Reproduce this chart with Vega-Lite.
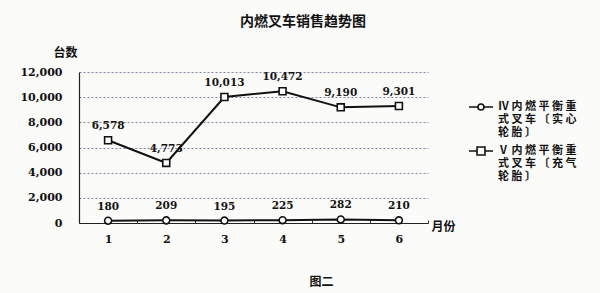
{
  "$schema": "https://vega.github.io/schema/vega-lite/v6.json",
  "autosize": "none",
  "width": 349,
  "height": 151,
  "padding": {"left": 79, "top": 72, "right": 172, "bottom": 70},
  "background": "#fbfbf9",
  "title": {
    "text": "内燃叉车销售趋势图",
    "anchor": "start",
    "frame": "group",
    "dx": 161,
    "offset": 3,
    "baseline": "bottom",
    "font": "Noto Sans CJK SC",
    "fontSize": 14,
    "fontWeight": "bold",
    "color": "#111"
  },
  "data": {
    "values": [
      {"month": "1", "series": "IV", "value": 180},
      {"month": "2", "series": "IV", "value": 209},
      {"month": "3", "series": "IV", "value": 195},
      {"month": "4", "series": "IV", "value": 225},
      {"month": "5", "series": "IV", "value": 282},
      {"month": "6", "series": "IV", "value": 210},
      {"month": "1", "series": "V", "value": 6578},
      {"month": "2", "series": "V", "value": 4773},
      {"month": "3", "series": "V", "value": 10013},
      {"month": "4", "series": "V", "value": 10472},
      {"month": "5", "series": "V", "value": 9190},
      {"month": "6", "series": "V", "value": 9301}
    ]
  },
  "encoding": {
    "x": {
      "field": "month",
      "type": "ordinal",
      "bandPosition": 0.5,
      "scale": {"type": "band", "paddingInner": 0, "paddingOuter": 0},
      "axis": {
        "title": "月份",
        "titleX": 364,
        "titleY": 3,
        "titleAlign": "center",
        "titleBaseline": "middle",
        "titleFont": "Noto Sans CJK SC",
        "titleFontSize": 12,
        "titleFontWeight": "bold",
        "titleColor": "#111",
        "labelAngle": 0,
        "labelFont": "DejaVu Serif",
        "labelFontSize": 11,
        "labelFontWeight": "bold",
        "labelColor": "#111",
        "labelPadding": 13,
        "tickBand": "extent",
        "tickSize": -3,
        "tickColor": "#333",
        "domainColor": "#222",
        "domainWidth": 1.2,
        "grid": false
      }
    }
  },
  "layer": [
    {
      "mark": {"type": "line", "color": "#111", "strokeWidth": 2},
      "encoding": {
        "detail": {"field": "series"},
        "y": {
          "field": "value",
          "type": "quantitative",
          "scale": {"domain": [0, 12000]},
          "axis": {
            "values": [0, 2000, 4000, 6000, 8000, 10000, 12000],
            "labelExpr": "format(datum.value, ',')",
            "title": "台数",
            "titleAngle": 0,
            "titleX": -14,
            "titleY": -20,
            "titleAlign": "center",
            "titleBaseline": "middle",
            "titleFont": "Noto Sans CJK SC",
            "titleFontSize": 12,
            "titleFontWeight": "bold",
            "titleColor": "#111",
            "labelFont": "DejaVu Serif",
            "labelFontSize": 11,
            "labelFontWeight": "bold",
            "labelColor": "#111",
            "labelPadding": 17,
            "ticks": false,
            "domainColor": "#222",
            "domainWidth": 1.2,
            "grid": true,
            "gridColor": "#7d86a3",
            "gridDash": [2, 2],
            "gridWidth": 1
          }
        }
      }
    },
    {
      "mark": {"type": "point", "filled": false, "fill": "#fff", "fillOpacity": 1, "stroke": "#111", "strokeWidth": 1.6, "opacity": 1, "size": 48},
      "encoding": {
        "y": {"field": "value", "type": "quantitative", "axis": null},
        "shape": {"condition": {"test": "datum.series == 'IV'", "value": "circle"}, "value": "square"}
      }
    },
    {
      "mark": {"type": "point", "filled": false, "opacity": 0, "size": 576},
      "encoding": {
        "y": {"field": "value", "type": "quantitative", "axis": null},
        "shape": {
          "field": "series",
          "type": "nominal",
          "scale": {
            "domain": ["IV", "V"],
            "range": [
              "M-1,0H-0.25M0.25,0H1M-0.25,0A0.25,0.25,0,1,1,0.25,0A0.25,0.25,0,1,1,-0.25,0Z",
              "M-1,0H-0.33M0.33,0H1M-0.33,-0.33H0.33V0.33H-0.33Z"
            ]
          },
          "legend": {
            "orient": "none",
            "legendX": 389,
            "legendY": 22,
            "title": null,
            "padding": 0,
            "symbolSize": 576,
            "symbolOpacity": 1,
            "symbolStrokeColor": "#111",
            "symbolFillColor": "#fff",
            "symbolStrokeWidth": 1.6,
            "labelFont": "Noto Sans CJK SC",
            "labelFontSize": 11,
            "labelFontWeight": "bold",
            "labelColor": "#111",
            "labelLimit": 200,
            "labelOffset": 4,
            "rowPadding": 0,
            "labelExpr": "datum.value == 'IV' ? ['Ⅳ 内 燃 平 衡 重', '式 叉 车 〔 实 心', '轮 胎 〕'] : ['Ⅴ 内 燃 平 衡 重', '式 叉 车 〔 充 气', '轮 胎 〕']",
            "encode": {
              "symbols": {"update": {"opacity": {"value": 1}}},
              "labels": {
                "update": {
                  "baseline": {"value": "top"},
                  "dy": {"value": -7},
                  "lineHeight": {"value": 13}
                }
              }
            }
          }
        }
      }
    },
    {
      "mark": {"type": "text", "dy": -14, "font": "DejaVu Serif", "fontSize": 10.5, "fontWeight": "bold", "color": "#111"},
      "encoding": {
        "y": {"field": "value", "type": "quantitative", "axis": null},
        "text": {"field": "value", "type": "quantitative", "format": ","}
      }
    },
    {
      "mark": {"type": "rule", "opacity": 0},
      "encoding": {
        "y": {
          "datum": 0,
          "type": "quantitative",
          "axis": {
            "orient": "right",
            "title": "图二",
            "titleAngle": 0,
            "titleX": -107,
            "titleY": 209,
            "titleAlign": "center",
            "titleBaseline": "middle",
            "titleFont": "Noto Sans CJK SC",
            "titleFontSize": 12,
            "titleFontWeight": "bold",
            "titleColor": "#111",
            "labels": false,
            "ticks": false,
            "domain": false,
            "grid": false
          }
        }
      }
    }
  ],
  "resolve": {"axis": {"y": "independent"}},
  "config": {"view": {"stroke": null}}
}
